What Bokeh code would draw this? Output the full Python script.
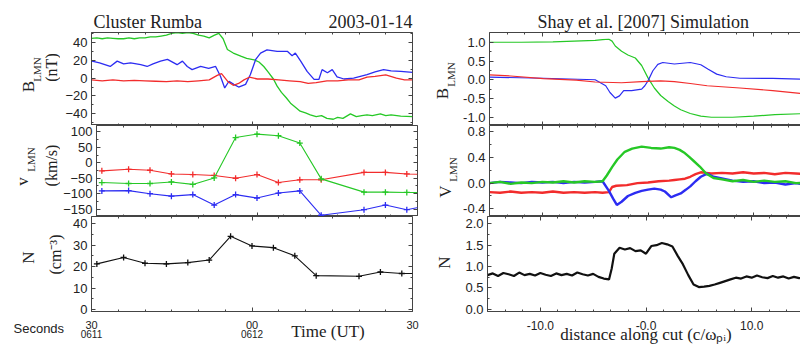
from bokeh.plotting import figure
from bokeh.models import LinearAxis, FixedTicker, Range1d, Label, NumeralTickFormatter
from bokeh.layouts import row, column
from bokeh.embed import file_html
from bokeh.resources import INLINE

# ---------------- data: Cluster Rumba 2003-01-14 (time in s after 06:11:30 UT) -------------
t_bl = [0, 1, 2, 3, 4, 5, 6, 7, 8, 9, 10, 11, 12, 13, 14, 15, 16, 17, 18, 19, 20, 21, 22, 23,
        23.8, 24.6, 25.4, 26.5, 27.9, 29, 30.4, 31.3, 32.2, 33, 34, 34.7, 35.5, 36.4, 37.2, 38,
        39, 40, 40.9, 42, 43, 44, 45.2, 46, 47, 48.4, 49.5, 50.5, 51.5, 52.5, 54, 55, 56, 57.8, 60]
b_l = [44.5, 45, 44, 45, 44.5, 44, 44, 45, 44, 45, 45, 46, 46, 47, 48, 50, 51, 50, 51, 50, 48, 47,
       45, 48, 50, 44, 32, 28, 24.5, 22, 20.5, 18, 13, 7, -1, -9, -16, -22, -28, -32, -37, -39, -41,
       -43, -42, -45, -46, -44, -45, -40, -43, -42, -41, -42, -40, -42, -41, -42.5, -43]

t_bm = [0.1, 1.5, 3.5, 4.8, 6, 7.3, 9.2, 10.4, 11.5, 12.9, 14.2, 16, 17, 17.9, 18.8, 20.4, 21.9,
        23.2, 24.1, 24.9, 25.7, 26.6, 27.5, 28.8, 29.7, 30.7, 31.6, 32.8, 34.7, 36.6, 37.5, 38.1,
        39.1, 40.3, 41.6, 42.5, 43.1, 44.1, 45, 45.9, 47.2, 49, 51.5, 53, 54.6, 56, 57.8, 60]
b_m = [19, 17, 13, 19, 16, 17, 15, 13, 16, 19, 21, 15, 19, 13, 9.5, 13, 11, 13, 2, -11, -3.5, -7,
       -10, -7, 4, 21, 28, 31.5, 30, 30, 25, 28, 19, 7.5, -1.5, -1.5, 9.5, 6, 9.5, 1.5, -1, 0, 4,
       7, 9.5, 8, 7.5, 6.5]

t_bn = [0, 2, 4, 6, 8, 10, 12, 14, 16, 18, 20, 22, 23.5, 24.3, 25.5, 26.5, 27.5, 28.5, 29.5, 31,
        33, 35, 37, 39, 40.5, 42, 44, 46, 48, 50, 51.5, 53, 55, 57, 58.5, 60]
b_n = [-2, -3, -2, -3, -2.5, -3, -3.5, -4, -3, -4, -3, -2, 3, 5, -4, -8, -6, -2, 1, -1, -1, -2,
       -3, -4, -6, -5, -3, -3, -2, -2, 1, 2, 3.5, 0, -2, -2]

t_v = [1, 6, 10, 14, 18, 22, 26, 30, 34, 38, 42, 50, 54, 58, 62]
v_l = [-64, -67, -67, -62, -70, -49, 82, 93, 88, 64, -52, -95, -95, -96, -96]
v_m = [-91, -90, -100, -108, -103, -137, -103, -114, -98, -91, -170, -152, -137, -152, -138]
v_n = [-26, -21, -24, -36, -38, -41, -50, -38, -64, -55, -55, -31, -31, -36, -38]
n_c = [21.3, 24.3, 21.6, 21.3, 21.9, 23.1, 34.2, 29.7, 28.9, 25.1, 15.8, 15.5, 17.5, 16.8, 16.8]

# ---------------- data: Shay et al. [2007] simulation (distance along cut) ----------------
d_bl = [-15, -12, -9, -7, -5, -4.3, -3.7, -3.4, -3.1, -2.5, -1.9, -1.2, -0.6, 0, 0.6, 1.2, 1.9,
        2.5, 3.1, 4, 5, 6, 8, 10, 12, 15]
s_bl = [1.0, 1.0, 1.01, 1.03, 1.05, 1.07, 1.08, 1.03, 0.9, 0.76, 0.66, 0.58, 0.38, 0.05, -0.22,
        -0.42, -0.58, -0.7, -0.8, -0.9, -0.97, -1.0, -1.0, -0.97, -0.93, -0.9]
d_bm = [-15, -9.9, -5, -4, -3.6, -3.1, -2.7, -2.3, -1.55, -0.6, -0.3, 0, 0.46, 0.93, 1.4, 2.5,
        4, 5, 5.7, 6.5, 7.4, 8.7, 11.8, 15]
s_bm = [0.07, 0.04, 0.0, -0.16, -0.34, -0.49, -0.43, -0.29, -0.29, -0.25, -0.16, -0.03, 0.24,
        0.41, 0.46, 0.42, 0.46, 0.4, 0.28, 0.15, 0.08, 0.04, 0.035, 0.01]
d_bn = [-15, -13, -9.9, -6.8, -5, -2.5, -0.6, 1.2, 2.5, 4, 5.6, 8.7, 11.8, 15]
s_bn = [0.13, 0.1, 0.03, -0.01, -0.06, -0.08, -0.05, -0.03, -0.05, -0.1, -0.16, -0.22, -0.29, -0.38]

d_vl = [-15, -14, -13, -12, -11, -10, -9, -8, -7, -6, -5, -4.3, -3.9, -3.4, -2.9, -2.2, -1.5,
        -0.6, 0.3, 1.2, 2, 2.5, 3, 3.4, 3.9, 4.3, 4.9, 5.5, 6.2, 7, 8, 9, 10, 11, 12, 13, 14, 15]
s_vl = [0.0, 0.02, -0.01, 0.01, 0.0, 0.02, 0.01, 0.03, 0.01, 0.03, 0.02, 0.03, 0.12, 0.25, 0.37,
        0.49, 0.54, 0.57, 0.55, 0.54, 0.56, 0.55, 0.52, 0.48, 0.41, 0.35, 0.26, 0.15, 0.08, 0.06,
        0.03, 0.05, 0.02, 0.04, 0.02, 0.03, 0.0, 0.01]
d_vm = [-15, -14, -13, -12, -11, -10, -9, -8, -7, -6, -5, -4.3, -3.7, -3.3, -2.95, -2.5, -1.9,
        -1.2, -0.6, 0, 0.6, 1.2, 1.6, 2.2, 2.6, 3.1, 3.6, 4, 4.5, 5, 5.6, 6.2, 7.1, 8, 9, 10, 11,
        12, 13, 14, 15]
s_vm = [0.0, 0.02, 0.01, 0.0, 0.02, 0.01, 0.02, 0.0, 0.02, 0.01, 0.02, 0.03, -0.12, -0.24,
        -0.34, -0.29, -0.2, -0.15, -0.12, -0.1, -0.085, -0.1, -0.13, -0.22, -0.19, -0.16, -0.1,
        -0.05, 0.03, 0.1, 0.15, 0.1, 0.07, 0.04, 0.02, 0.03, 0.0, 0.01, -0.02, 0.0, -0.02]
d_vn = [-15, -14, -13, -12, -11, -10, -9, -8, -7, -6, -5, -4.3, -3.7, -3.4, -3, -2, -1, 0, 1, 2,
        2.5, 3, 3.5, 4, 4.5, 5, 5.5, 6, 7, 8, 9, 10, 11, 12, 13, 14, 15]
s_vn = [-0.14, -0.15, -0.13, -0.15, -0.14, -0.15, -0.13, -0.15, -0.14, -0.15, -0.14, -0.15,
        -0.14, -0.06, -0.04, -0.03, 0.0, 0.01, 0.03, 0.04, 0.05, 0.06, 0.07, 0.1, 0.14, 0.17, 0.16,
        0.15, 0.16, 0.15, 0.17, 0.15, 0.16, 0.14, 0.16, 0.15, 0.14]

d_n = [-15, -14.5, -14, -13.5, -13, -12.5, -12, -11.5, -11, -10.5, -10, -9.5, -9, -8.5, -8, -7.5,
       -7, -6.5, -6, -5.5, -5, -4.5, -4, -3.5, -3.25, -3, -2.5, -2, -1.5, -1, -0.5, 0, 0.5, 1,
       1.5, 2, 2.5, 3, 3.5, 4, 4.5, 5, 5.5, 6, 6.5, 7, 7.5, 8, 8.5, 9, 9.5, 10, 10.5, 11, 11.5,
       12, 12.5, 13, 13.5, 14, 14.5, 15]
s_n = [0.80, 0.84, 0.78, 0.85, 0.82, 0.78, 0.86, 0.80, 0.83, 0.79, 0.85, 0.81, 0.78, 0.84, 0.80,
       0.83, 0.79, 0.86, 0.82, 0.79, 0.83, 0.76, 0.72, 0.70, 0.95, 1.30, 1.44, 1.40, 1.43, 1.36,
       1.38, 1.30, 1.48, 1.50, 1.55, 1.52, 1.47, 1.25, 1.05, 0.80, 0.58, 0.52, 0.53, 0.55, 0.58,
       0.62, 0.66, 0.70, 0.74, 0.72, 0.77, 0.74, 0.79, 0.75, 0.73, 0.78, 0.74, 0.77, 0.72, 0.76,
       0.73, 0.75]

# ---------------- ticks and tick labels ----------------
t_major = [0, 30, 60]
t_minor = [5, 10, 15, 20, 25, 35, 40, 45, 50, 55]
t_labels = {0: "30", 30: "00", 60: "30"}
t_hours = {0: "0611", 30: "0612"}
time_title_at = 44.2
d_major = [-10, 0, 10]
d_minor = [-13.333, -11.667, -8.333, -6.667, -5, -3.333, -1.667, 1.667, 3.333, 5, 6.667, 8.333,
           11.667, 13.333]
d_labels = {-10: "-10.0", 0: "-0.0", 10: "10.0"}
yb_major = [-40, -20, 0, 20, 40]
yb_minor = [-50, -30, -10, 10, 30, 50]
yv_major = [-150, -100, -50, 0, 50, 100]
yv_minor = [-125, -75, -25, 25, 75]
yn_major = [0, 10, 20, 30, 40]
yn_minor = [5, 15, 25, 35]
sb_major = [-1.0, -0.5, 0.0, 0.5, 1.0]
sb_minor = [-0.75, -0.25, 0.25, 0.75]
sv_major = [-0.4, 0.0, 0.4, 0.8]
sv_minor = [-0.2, 0.2, 0.6]
sn_major = [0.0, 0.5, 1.0, 1.5, 2.0]
sn_minor = [0.25, 0.75, 1.25, 1.75]

GREEN = "#26c826"
BLUE = "#2c2cf2"
RED = "#f22c2c"
BLACK = "#111111"
AX = "#444444"
TXT = "#222222"
SERIF = "Liberation Serif"
SANS = "Liberation Sans"


def bare(w, h):
    p = figure(x_range=Range1d(0, w), y_range=Range1d(0, h), frame_width=w, frame_height=h,
               min_border=0, x_axis_location=None, y_axis_location=None,
               output_backend="svg", toolbar_location=None)
    p.grid.visible = False
    p.outline_line_color = None
    return p


def panel(xr, yr, fw, fh, bl, br, bb):
    p = figure(x_range=Range1d(*xr), y_range=Range1d(*yr), frame_width=fw, frame_height=fh,
               min_border_left=bl, min_border_right=br, min_border_top=0, min_border_bottom=bb,
               x_axis_location=None, y_axis_location=None,
               output_backend="svg", toolbar_location=None)
    p.grid.visible = False
    p.outline_line_color = AX
    p.outline_line_width = 1
    return p


def style(ax, labels=True, size="13px", font=SANS):
    ax.major_tick_in = 4
    ax.major_tick_out = 0
    ax.minor_tick_in = 2
    ax.minor_tick_out = 0
    ax.axis_line_color = AX
    ax.major_tick_line_color = AX
    ax.minor_tick_line_color = AX
    ax.major_label_text_font = font
    ax.major_label_text_font_size = size
    ax.major_label_text_color = TXT if labels else None
    ax.major_label_standoff = 4
    return ax


def add_axes(p, xt, xm, yt, ym, xr, yr, bottom=True, yfmt=None):
    left = style(LinearAxis(ticker=FixedTicker(ticks=yt, minor_ticks=ym)))
    if yfmt:
        left.formatter = NumeralTickFormatter(format=yfmt)
    p.add_layout(left, "left")
    p.add_layout(style(LinearAxis(ticker=FixedTicker(ticks=yt, minor_ticks=ym),
                                  fixed_location=xr[1]), labels=False), "right")
    p.add_layout(style(LinearAxis(ticker=FixedTicker(ticks=xt, minor_ticks=xm),
                                  fixed_location=yr[1]), labels=False), "above")
    if bottom:
        p.add_layout(style(LinearAxis(ticker=FixedTicker(ticks=xt, minor_ticks=xm),
                                      fixed_location=yr[0]), labels=False), "below")


def lab(p, x, y, text, size, font=SERIF, angle=0, align="center", baseline="middle"):
    p.add_layout(Label(x=x, y=y, x_units="screen", y_units="screen", text=text, angle=angle,
                       angle_units="deg", text_font=font, text_font_size=size,
                       text_color=TXT, text_align=align, text_baseline=baseline))


LFW, LBR = 321, 16
RBL, RFW, RBR = 27, 317, 1
H1, H2, H3, BOT = 93, 91, 95, 37

tr = (0, 60)
dr = (-15, 15)
yr1, yr2, yr3 = (-53, 51), (-174, 121), (-1, 43.5)
sr1, sr2, sr3 = (-1.22, 1.26), (-0.52, 0.9), (-0.05, 2.17)

# ---------------- header with titles ----------------
head = bare(800, 32)
lab(head, 93, 11, "Cluster Rumba", "18px", align="left")
lab(head, 412, 11, "2003-01-14", "18px", align="right")
lab(head, 537, 11, "Shay et al. [2007] Simulation", "18px", align="left")

# ---------------- left column ----------------
la1 = bare(60, H1)
lab(la1, 28, 39, "B", "17px", angle=90)
lab(la1, 36, 56, "LMN", "11px", angle=90)
lab(la1, 51, 58, "(nT)", "16px", angle=90)
l1 = panel(tr, yr1, LFW, H1, 31, LBR, 0)
add_axes(l1, t_major, t_minor, yb_major, yb_minor, tr, yr1)
l1.line(t_bl, b_l, line_color=GREEN, line_width=1.3)
l1.line(t_bm, b_m, line_color=BLUE, line_width=1.3)
l1.line(t_bn, b_n, line_color=RED, line_width=1.3)

la2 = bare(60, H2)
lab(la2, 22, 35, "v", "17px", angle=90)
lab(la2, 30, 57, "LMN", "11px", angle=90)
lab(la2, 51, 51, "(km/s)", "16px", angle=90)
l2 = panel(tr, yr2, LFW, H2, 31, LBR, 0)
add_axes(l2, t_major, t_minor, yv_major, yv_minor, tr, yr2)
for vals, col in ((v_n, RED), (v_l, GREEN), (v_m, BLUE)):
    l2.line(t_v, vals, line_color=col, line_width=1.1)
    l2.scatter(t_v, vals, marker="cross", size=6, line_color=col, line_width=1.3)

la3 = bare(66, H3 + BOT)
lab(la3, 28, 91, "N", "17px", angle=90)
lab(la3, 55, 94, "(cm\u207b\u00b3)", "16px", angle=90)
lab(la3, 13, 20, "Seconds", "13px", font=SANS, align="left")
l3 = panel(tr, yr3, LFW, H3, 25, LBR, BOT)
add_axes(l3, t_major, t_minor, yn_major, yn_minor, tr, yr3, bottom=False)
xa = style(LinearAxis(ticker=FixedTicker(ticks=t_major, minor_ticks=t_minor)), size="11px")
xa.major_label_overrides = t_labels
xa.major_label_standoff = 9
l3.add_layout(xa, "below")
xb = style(LinearAxis(ticker=FixedTicker(ticks=[0, 30], minor_ticks=[])), size="10px")
xb.major_label_overrides = t_hours
xb.major_label_standoff = -2
xb.axis_line_color = None
xb.major_tick_line_color = None
l3.add_layout(xb, "below")
xc = style(LinearAxis(ticker=FixedTicker(ticks=[time_title_at], minor_ticks=[])),
           size="17px", font=SERIF)
xc.major_label_overrides = {time_title_at: "Time (UT)"}
xc.major_label_standoff = -19
xc.axis_line_color = None
xc.major_tick_line_color = None
l3.add_layout(xc, "below")
l3.line(t_v, n_c, line_color=BLACK, line_width=1.1)
l3.scatter(t_v, n_c, marker="cross", size=6, line_color=BLACK, line_width=1.3)

# ---------------- right column ----------------
lb1 = bare(27, H1)
lab(lb1, 8.5, 32, "B", "17px", angle=90)
lab(lb1, 17, 51, "LMN", "11px", angle=90)
r1 = panel(dr, sr1, RFW, H1, RBL, RBR, 0)
add_axes(r1, d_major, d_minor, sb_major, sb_minor, dr, sr1, yfmt="0.0")
r1.line(d_bl, s_bl, line_color=GREEN, line_width=1.2)
r1.line(d_bm, s_bm, line_color=BLUE, line_width=1.2)
r1.line(d_bn, s_bn, line_color=RED, line_width=1.2)

lb2 = bare(27, H2)
lab(lb2, 12, 25, "V", "17px", angle=90)
lab(lb2, 19, 47, "LMN", "11px", angle=90)
r2 = panel(dr, sr2, RFW, H2, RBL, RBR, 0)
add_axes(r2, d_major, d_minor, sv_major, sv_minor, dr, sr2, yfmt="0.0")
r2.line(d_vn, s_vn, line_color=RED, line_width=2.4)
r2.line(d_vm, s_vm, line_color=BLUE, line_width=2.4)
r2.line(d_vl, s_vl, line_color=GREEN, line_width=2.4)

lb3 = bare(27, H3 + BOT)
lab(lb3, 11, 86, "N", "17px", angle=90)
r3 = panel(dr, sr3, RFW, H3, RBL, RBR, BOT)
add_axes(r3, d_major, d_minor, sn_major, sn_minor, dr, sr3, bottom=False, yfmt="0.0")
xr3 = style(LinearAxis(ticker=FixedTicker(ticks=d_major, minor_ticks=d_minor)), size="12px")
xr3.major_label_overrides = d_labels
xr3.major_label_standoff = 9
xr3.axis_label = "distance along cut (c/\u03c9\u209a\u1d62)"
xr3.axis_label_text_font = SERIF
xr3.axis_label_text_font_style = "normal"
xr3.axis_label_text_font_size = "17px"
xr3.axis_label_text_color = TXT
xr3.axis_label_standoff = -8
r3.add_layout(xr3, "below")
r3.line(d_n, s_n, line_color=BLACK, line_width=2.2)

left_col = column(row(la1, l1), row(la2, l2), row(la3, l3))
right_col = column(row(lb1, r1), row(lb2, r2), row(lb3, r3))
layout = column(head, row(left_col, right_col))
open("out.html", "w").write(file_html(layout, INLINE))
